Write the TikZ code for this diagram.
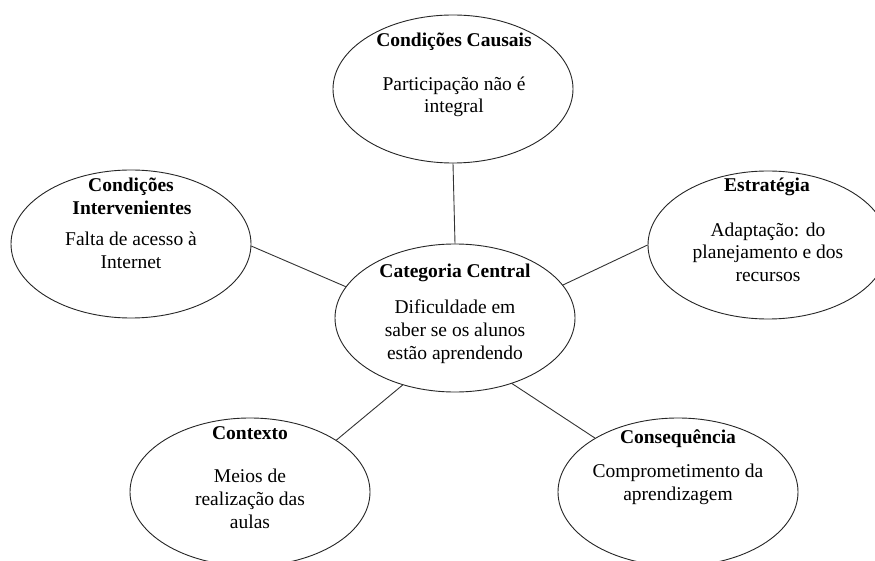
\documentclass[tikz,border=0pt]{standalone}
\usepackage{fontspec}
\setmainfont{Liberation Serif}
\usetikzlibrary{shapes.geometric}
\begin{document}
\begin{tikzpicture}[x=1pt,y=-1pt,
  oval/.style={draw=black!85, line width=0.9pt, ellipse, inner sep=0pt,
    minimum width=240pt, minimum height=148pt},
  link/.style={draw=black!80, line width=0.9pt},
  ttl/.style={anchor=base, inner sep=0pt, font=\fontsize{19.5}{23.5}\selectfont\bfseries},
  txt/.style={anchor=base, inner sep=0pt, font=\fontsize{19.5}{23.5}\selectfont}]
\useasboundingbox (0,0) rectangle (875,561);
\clip (0,0) rectangle (875,561);
\fill[white] (0,0) rectangle (875,561);

% ellipses
\node[oval] (T) at (453,89) {};
\node[oval] (L) at (131,244) {};
\node[oval] (R) at (768,245) {};
\node[oval] (C) at (455,318) {};
\node[oval] (BL) at (250,492) {};
\node[oval] (BR) at (678,492) {};

% connectors
\draw[link] (T.south) -- (C.north);
\draw[link] (L.-1) -- (C.164);
\draw[link] (R.west) -- (C.17);
\draw[link] (BL.31) -- (C.232);
\draw[link] (BR.147) -- (C.311);

% top
\node[ttl] (t1) at (454,47) {Condições Causais};
\node[txt] (t2) at (454,91) {Participação não é};
\node[txt] (t3) at (454,113) {integral};

% left
\node[ttl] (l1) at (131,192) {Condições};
\node[ttl] (l2) at (132,215) {Intervenientes};
\node[txt] (l3) at (131,246) {Falta de acesso à};
\node[txt] (l4) at (131,269) {Internet};

% right
\node[ttl] (r1) at (767,192) {Estratégia};
\node[txt] (r2) at (768,237) {Adaptação: do};
\node[txt] (r3) at (768,259) {planejamento e dos};
\node[txt] (r4) at (768,281) {recursos};

% center
\node[ttl] (c1) at (455,277) {Categoria Central};
\node[txt] (c2) at (455,313) {Dificuldade em};
\node[txt] (c3) at (455,336) {saber se os alunos};
\node[txt] (c4) at (455,359) {estão aprendendo};

% bottom left
\node[ttl] (b1) at (250,439) {Contexto};
\node[txt] (b2) at (250,482) {Meios de};
\node[txt] (b3) at (250,505) {realização das};
\node[txt] (b4) at (250,528) {aulas};

% bottom right
\node[ttl] (d1) at (678,443) {Consequência};
\node[txt] (d2) at (678,477) {Comprometimento da};
\node[txt] (d3) at (678,500) {aprendizagem};
\end{tikzpicture}
\end{document}
